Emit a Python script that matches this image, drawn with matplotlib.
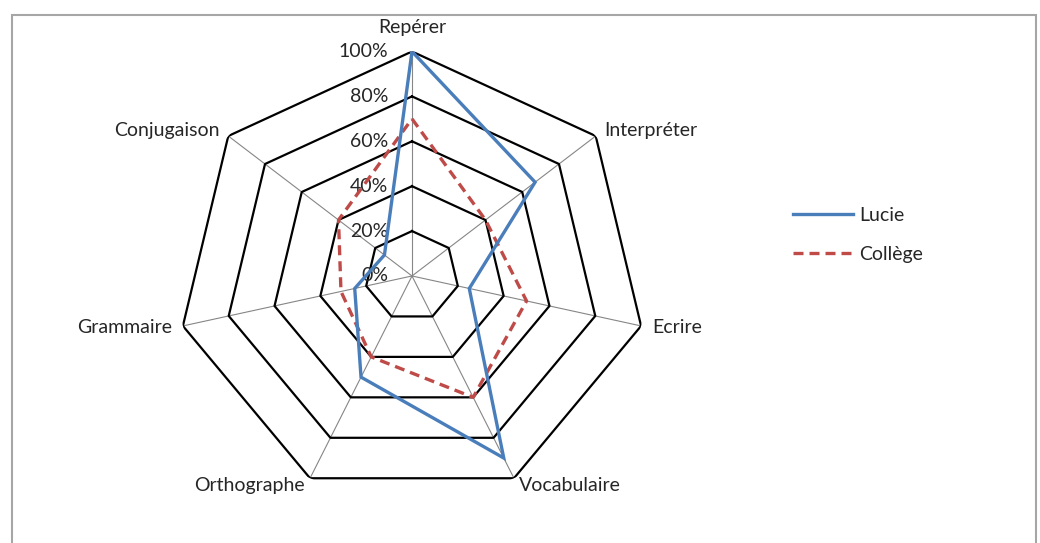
import numpy as np
import matplotlib.pyplot as plt
from matplotlib.patches import Rectangle
from matplotlib.lines import Line2D

plt.rcParams['font.family'] = ['Lato', 'DejaVu Sans']

# Data
categories = ["Repérer", "Interpréter", "Ecrire", "Vocabulaire",
              "Orthographe", "Grammaire", "Conjugaison"]
lucie = [1.00, 0.67, 0.25, 0.90, 0.50, 0.25, 0.15]
college = [0.70, 0.40, 0.50, 0.60, 0.40, 0.31, 0.40]
ring_values = [0.2, 0.4, 0.6, 0.8, 1.0]
radial_labels = ["0%", "20%", "40%", "60%", "80%", "100%"]

n = len(categories)
angles = np.linspace(0, 2 * np.pi, n, endpoint=False)
angles_closed = np.append(angles, angles[0])

fig = plt.figure(figsize=(10.4, 5.43), dpi=100)
ax = fig.add_axes([0.1702, 0.0783, 0.4519, 0.8269], projection="polar")
ax.set_theta_zero_location("N")
ax.set_theta_direction(-1)
ax.set_aspect("auto")
ax.set_ylim(0, 1)
ax.grid(False)
ax.set_xticks([])
ax.set_yticks([])
ax.spines["polar"].set_visible(False)

# spokes and polygon rings (Excel style)
for a in angles:
    ax.plot([a, a], [0, 1], color="#868686", lw=0.8, zorder=1)
for v in ring_values:
    ax.plot(angles_closed, [v] * (n + 1), color="black", lw=1.6, zorder=2)

# radial labels along the top spoke
for v, lab in zip([0.0] + ring_values, radial_labels):
    ax.annotate(lab, xy=(0, v), xytext=(-17, 0), textcoords="offset points",
                ha="right", va="center", fontsize=14, color="#262626", zorder=3)

# category labels
for a, lab in zip(angles, categories):
    s, c = np.sin(a), np.cos(a)
    if s > 0.1:
        ha = "left"
    elif s < -0.1:
        ha = "right"
    else:
        ha = "center"
    oy = 17 if c > 0.99 else 6 * c
    ax.annotate(lab, xy=(a, 1.0), xytext=(8 * s, oy), textcoords="offset points",
                ha=ha, va="center", fontsize=14, color="#262626", annotation_clip=False)

# series
ax.plot(angles_closed, lucie + lucie[:1], color="#4A7EBB", lw=2.4, zorder=5,
        solid_joinstyle="miter")
ax.plot(angles_closed, college + college[:1], color="#BE4B48", lw=2.4, zorder=4,
        linestyle=(0, (3, 1.8)))

handles = [Line2D([], [], color="#4A7EBB", lw=2.4),
           Line2D([], [], color="#BE4B48", lw=2.4, linestyle=(0, (3, 1.8)))]
fig.legend(handles, ["Lucie", "Collège"], loc="center left",
           bbox_to_anchor=(0.7625, 0.567), frameon=False, fontsize=14,
           handlelength=3.1, handletextpad=0.3, labelspacing=1.15,
           borderpad=0, borderaxespad=0, labelcolor="#262626")

# outer chart frame
fig.add_artist(Rectangle((0.0115, -0.1), 0.9847, 1.0724, transform=fig.transFigure,
                         fill=False, edgecolor="#a6a6a6", lw=1.5))

fig.savefig("out.png", dpi=100)
